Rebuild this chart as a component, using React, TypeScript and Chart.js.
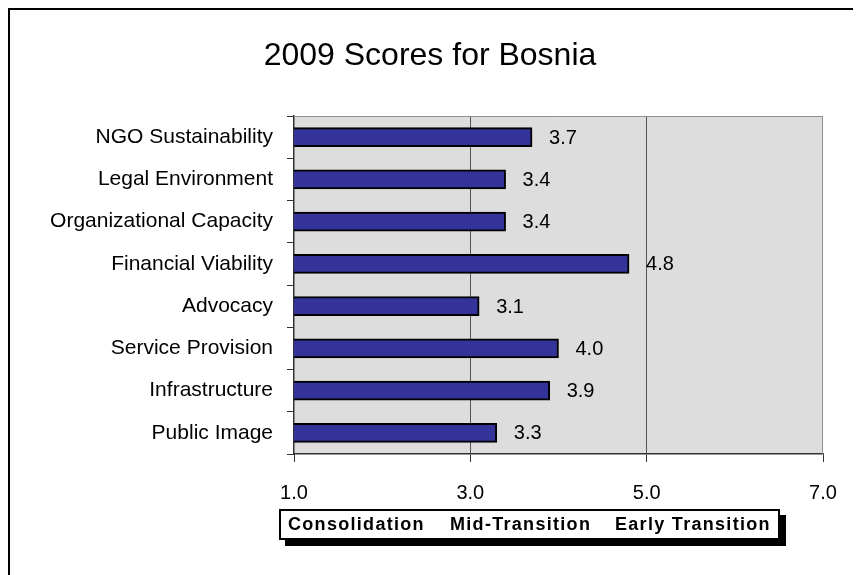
import React, { useEffect, useRef } from "react";
import { Chart, registerables } from "chart.js";

Chart.register(...registerables);

const titleText = "2009 Scores for Bosnia";
const categories = [
  "NGO Sustainability",
  "Legal Environment",
  "Organizational Capacity",
  "Financial Viability",
  "Advocacy",
  "Service Provision",
  "Infrastructure",
  "Public Image",
];
const scores = [3.7, 3.4, 3.4, 4.8, 3.1, 4.0, 3.9, 3.3];
const xMin = 1;
const xMax = 7;
const xStep = 2;
const stageLabels = ["Consolidation", "Mid-Transition", "Early Transition"];

const FONT = "'Liberation Sans', Arial, sans-serif";

export default function App() {
  const canvasRef = useRef<HTMLCanvasElement | null>(null);

  useEffect(() => {
    if (!canvasRef.current) return;

    const plotBg = {
      id: "plotBg",
      beforeDraw(chart: any) {
        const { ctx, chartArea: a } = chart;
        ctx.save();
        ctx.fillStyle = "#DDDDDD";
        ctx.fillRect(a.left, a.top, a.right - a.left, a.bottom - a.top);
        ctx.restore();
      },
      afterDatasetsDraw(chart: any) {
        const { ctx, chartArea: a } = chart;
        ctx.save();
        ctx.strokeStyle = "#909090";
        ctx.lineWidth = 1;
        ctx.beginPath();
        ctx.moveTo(a.left, a.top + 0.5);
        ctx.lineTo(a.right - 0.5, a.top + 0.5);
        ctx.lineTo(a.right - 0.5, a.bottom);
        ctx.stroke();
        // value labels
        const meta = chart.getDatasetMeta(0);
        ctx.fillStyle = "#000";
        ctx.font = `20px ${FONT}`;
        ctx.textBaseline = "middle";
        ctx.textAlign = "left";
        meta.data.forEach((el: any, i: number) => {
          const v = chart.data.datasets[0].data[i] as number;
          ctx.fillText(v.toFixed(1), el.x + 17, el.y + 1);
        });
        ctx.restore();
      },
    };

    const chart = new Chart(canvasRef.current, {
      type: "bar",
      data: {
        labels: categories,
        datasets: [
          {
            data: scores,
            backgroundColor: "#333399",
            borderColor: "#000000",
            borderWidth: 2,
            barThickness: 19,
          },
        ],
      },
      options: {
        indexAxis: "y",
        animation: false,
        responsive: false,
        maintainAspectRatio: false,
        layout: { padding: { top: 108, right: 38, bottom: 0, left: 0 } },
        plugins: {
          legend: { display: false },
          title: { display: false },
          tooltip: { enabled: false },
        },
        scales: {
          x: {
            type: "linear",
            min: xMin,
            max: xMax,
            ticks: {
              stepSize: xStep,
              padding: 19,
              color: "#000",
              font: { family: FONT, size: 20 },
              callback: (v: any) => Number(v).toFixed(1),
            },
            grid: {
              color: (ctx: any) =>
                ctx.tick && ctx.tick.value > xMin && ctx.tick.value < xMax
                  ? "#555555"
                  : "rgba(0,0,0,0)",
              tickColor: "#333333",
              tickLength: 8,
              lineWidth: 1,
            },
            border: { color: "#333333", width: 1.5 },
            afterFit: (s: any) => {
              s.height = 121;
            },
          },
          y: {
            type: "category",
            ticks: {
              padding: 14,
              color: "#000",
              font: { family: FONT, size: 21 },
            },
            grid: {
              offset: true,
              drawOnChartArea: false,
              tickLength: 7,
              tickColor: "#333333",
            },
            border: { color: "#333333", width: 1.5 },
            afterFit: (s: any) => {
              s.width = 286;
            },
          },
        },
      },
      plugins: [plotBg],
    } as any);

    return () => chart.destroy();
  }, []);

  return (
    <div style={{ position: "relative", width: 853, height: 567, fontFamily: FONT }}>
      <div
        style={{
          position: "absolute",
          left: 0,
          top: 0,
          width: 853,
          height: 567,
          borderLeft: "2px solid #000",
          borderTop: "2px solid #000",
          boxSizing: "border-box",
        }}
      />
      <canvas
        ref={canvasRef}
        width={853}
        height={567}
        style={{ position: "absolute", left: 0, top: 0, width: 853, height: 567 }}
      />
      <div
        style={{
          position: "absolute",
          left: 0,
          top: 30,
          width: 844,
          textAlign: "center",
          fontSize: 32,
          lineHeight: "32px",
          color: "#000",
        }}
      >
        {titleText}
      </div>
      <div
        style={{
          position: "absolute",
          left: 271,
          top: 501,
          width: 501,
          height: 31,
          boxSizing: "border-box",
          border: "2px solid #000",
          background: "#fff",
          boxShadow: "6px 6px 0 #000",
        }}
      >
        {stageLabels.map((s, i) => (
          <span
            key={s}
            style={{
              position: "absolute",
              left: [7, 169, 334][i],
              top: 0,
              lineHeight: "27px",
              fontSize: 18,
              fontWeight: "bold",
              letterSpacing: "1.3px",
              whiteSpace: "nowrap",
              color: "#000",
            }}
          >
            {s}
          </span>
        ))}
      </div>
    </div>
  );
}
